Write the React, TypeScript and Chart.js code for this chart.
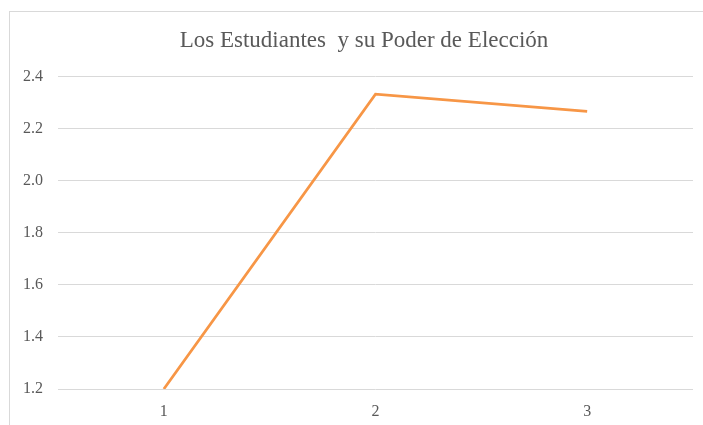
import React, { useEffect, useRef } from "react";
import { Chart, registerables } from "chart.js";

Chart.register(...registerables);

const categories = ["1", "2", "3"];
const seriesValues = [1.2, 2.333, 2.267];
const yMin = 1.2;
const yMax = 2.4;
const yStep = 0.2;
const chartTitle = "Los Estudiantes  y su Poder de Elección";

const TEXT_COLOR = "#595959";
const GRID_COLOR = "#d9d9d9";
const LINE_COLOR = "#F79646";
const SERIF = "'Liberation Serif', 'Times New Roman', serif";

// Draws the chart heading centred on a fixed point above the plot area.
const headingPlugin = {
  id: "heading",
  afterDraw(chart: any, _args: any, opts: any) {
    const ctx = chart.ctx;
    ctx.save();
    ctx.font = `normal ${opts.size}px ${SERIF}`;
    ctx.fillStyle = TEXT_COLOR;
    ctx.textAlign = "center";
    ctx.textBaseline = "alphabetic";
    ctx.fillText(opts.text, opts.x, opts.y);
    ctx.restore();
  },
};

export default function App() {
  const canvasRef = useRef<HTMLCanvasElement | null>(null);

  useEffect(() => {
    const canvas = canvasRef.current;
    if (!canvas) return;
    const chart = new Chart(canvas, {
      type: "line",
      data: {
        labels: categories,
        datasets: [
          {
            data: seriesValues,
            borderColor: LINE_COLOR,
            backgroundColor: LINE_COLOR,
            borderWidth: 2.75,
            pointRadius: 0,
            pointHoverRadius: 0,
            tension: 0,
            fill: false,
          },
        ],
      },
      plugins: [headingPlugin],
      options: {
        responsive: false,
        animation: false,
        events: [],
        layout: { padding: { left: 0, right: 10, top: 64.7, bottom: 0 } },
        plugins: {
          legend: { display: false },
          tooltip: { enabled: false },
          title: { display: false },
          heading: { text: chartTitle, size: 23, x: 354, y: 35.3 },
        } as any,
        scales: {
          x: {
            offset: true,
            grid: { display: false, drawTicks: false },
            border: { display: false },
            ticks: {
              color: TEXT_COLOR,
              font: { family: SERIF, size: 16 },
              padding: 13,
              maxRotation: 0,
            },
            afterFit: (scale: any) => {
              scale.height = 36;
            },
          },
          y: {
            min: yMin,
            max: yMax,
            grid: { color: GRID_COLOR, lineWidth: 1, drawTicks: false },
            border: { display: false },
            ticks: {
              stepSize: yStep,
              color: TEXT_COLOR,
              font: { family: SERIF, size: 16 },
              padding: 15,
              callback: (v: any) => Number(v).toFixed(1),
            },
            afterFit: (scale: any) => {
              scale.width = 48;
            },
          },
        },
      },
    });
    return () => chart.destroy();
  }, []);

  return (
    <div
      style={{
        position: "fixed",
        left: 9,
        top: 11,
        width: 694,
        height: 414,
        borderLeft: `1px solid ${GRID_COLOR}`,
        borderTop: `1px solid ${GRID_COLOR}`,
        overflow: "hidden",
        background: "#ffffff",
      }}
    >
      <canvas
        ref={canvasRef}
        width={693}
        height={413}
        style={{ display: "block", width: 693, height: 413 }}
      />
    </div>
  );
}
